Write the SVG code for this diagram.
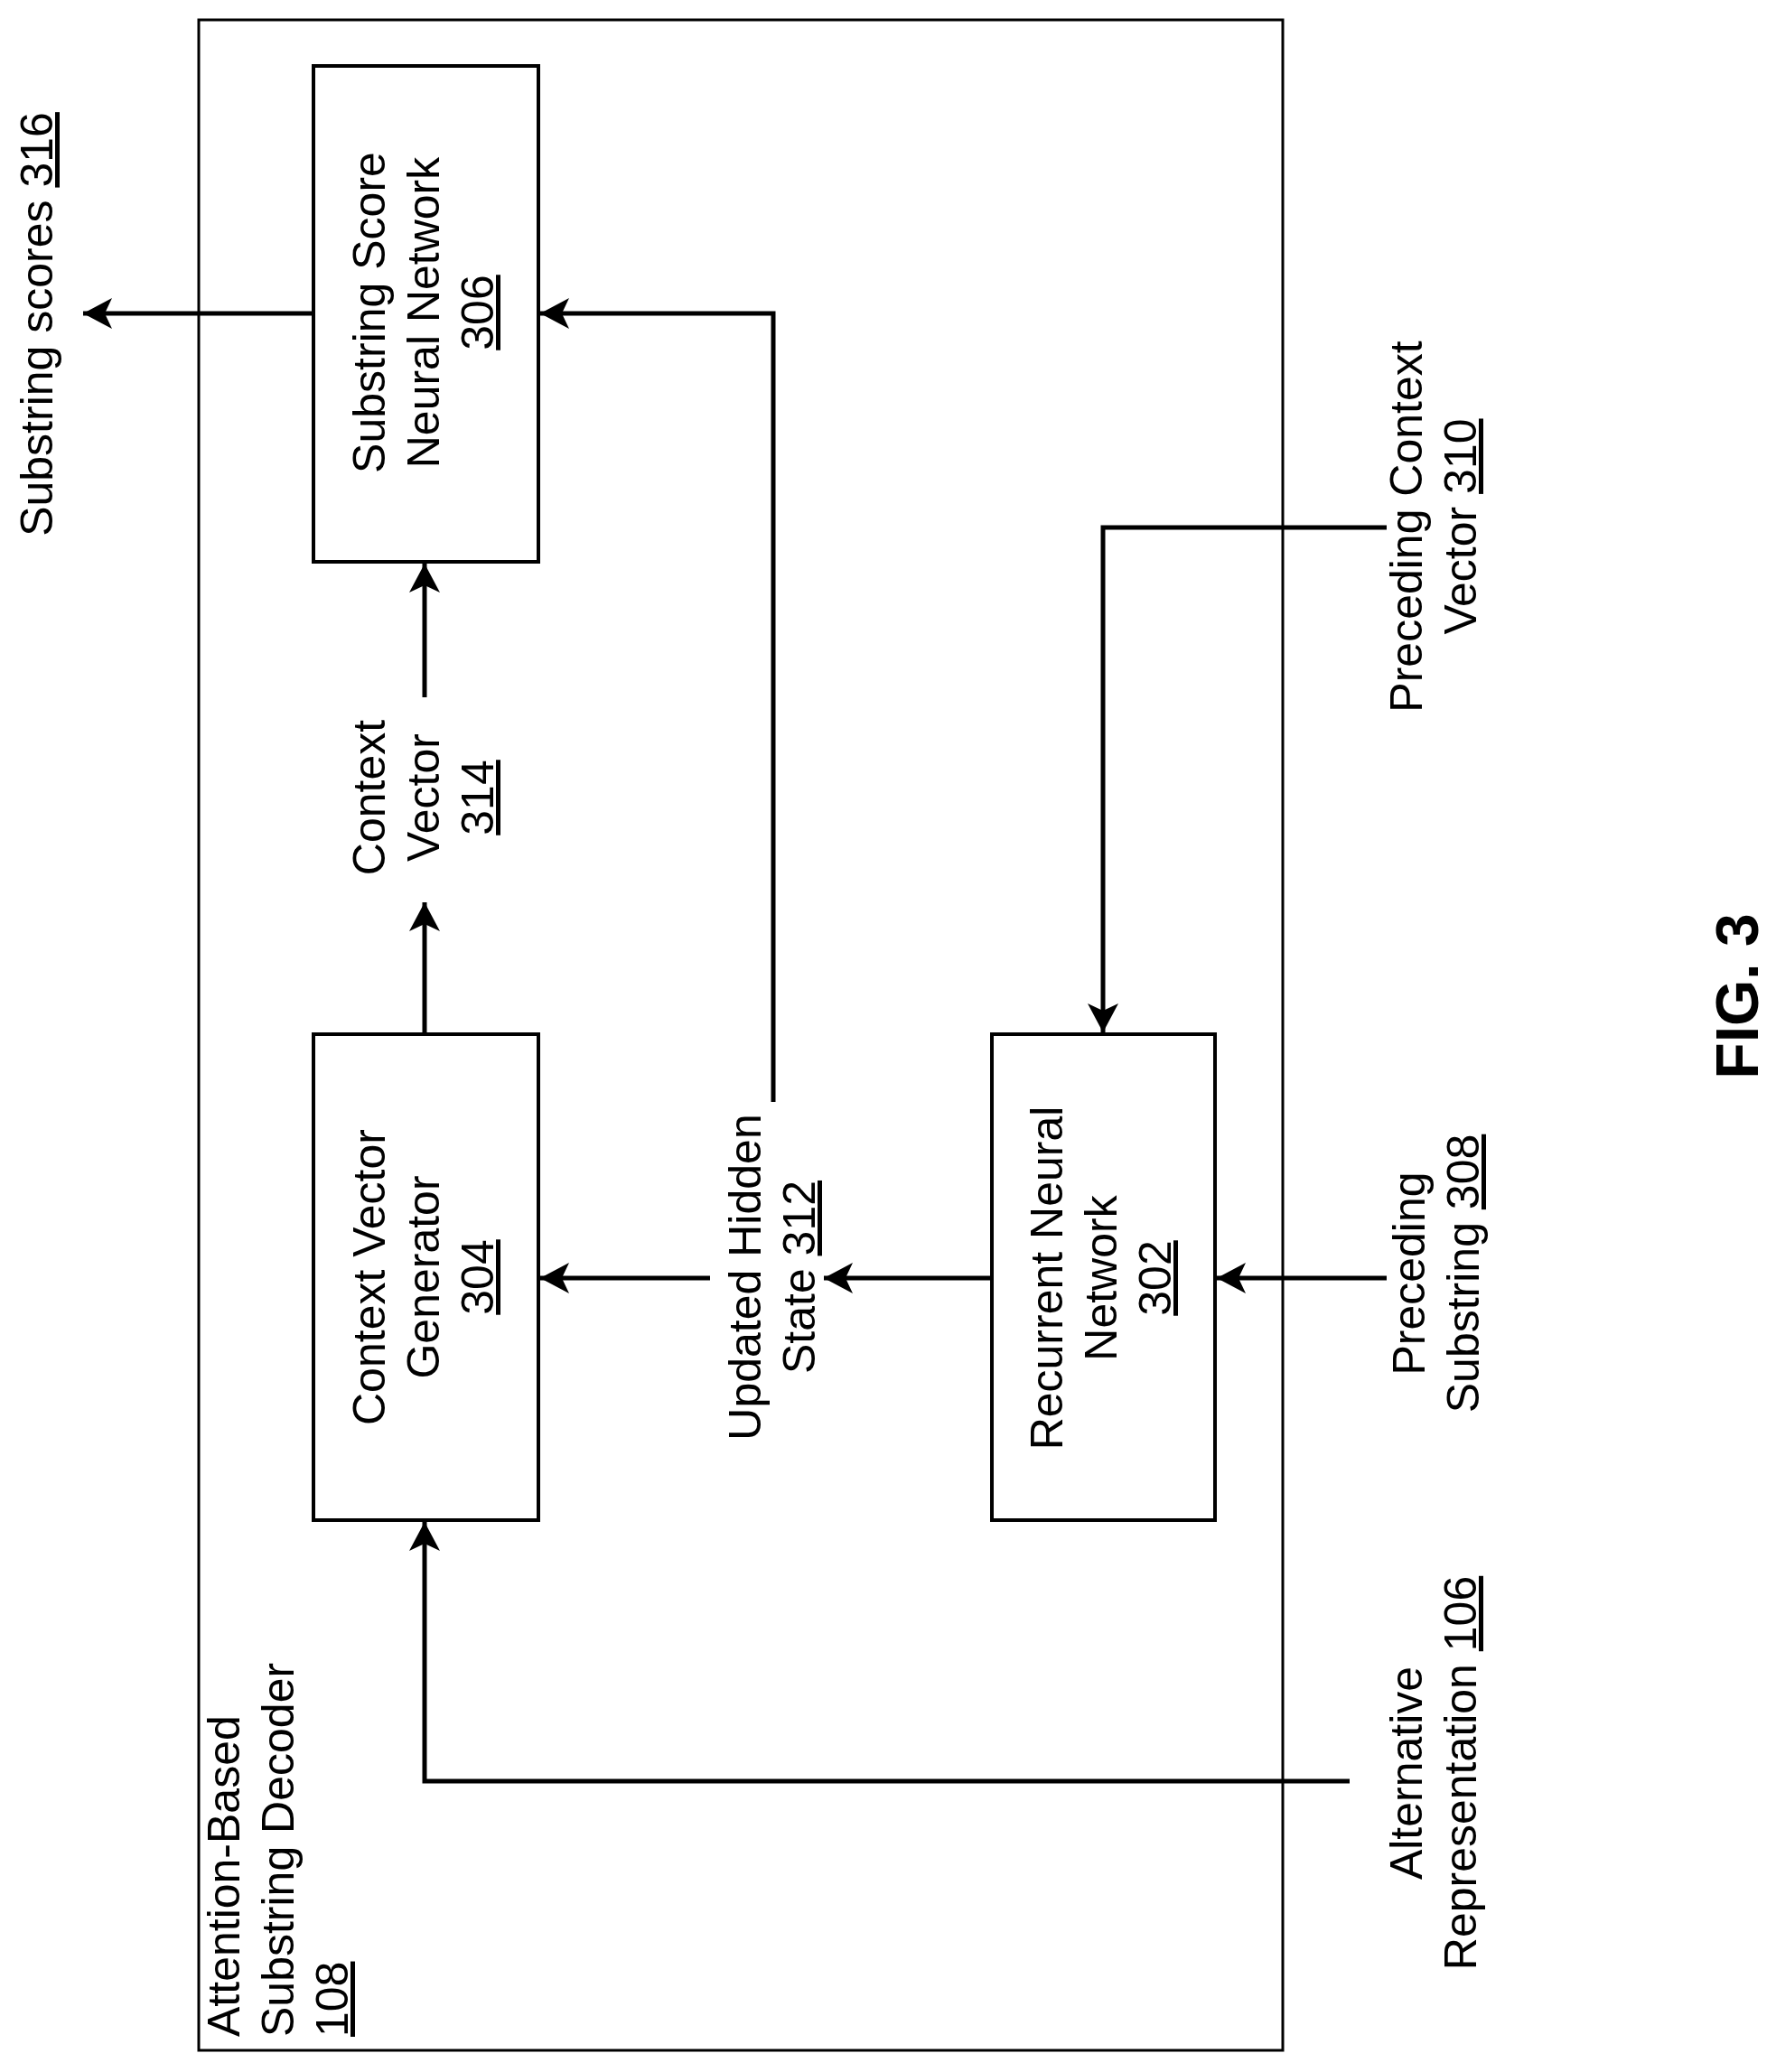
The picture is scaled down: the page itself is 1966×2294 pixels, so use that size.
<svg xmlns="http://www.w3.org/2000/svg" width="1966" height="2294" viewBox="0 0 1966 2294">
<style>
text{font-family:"Liberation Sans",Arial,sans-serif;font-size:50px;fill:#000}
.m{text-anchor:middle}
.u{text-decoration:underline}
.box{fill:#fff;stroke:#000;stroke-width:4}
.c{fill:none;stroke:#000;stroke-width:5}
</style>
<defs>
<marker id="ah" viewBox="0 0 32 34" refX="32" refY="17" markerWidth="32" markerHeight="34" markerUnits="userSpaceOnUse" orient="auto">
<path d="M0,0 L32,17 L0,34 L8,17 Z" fill="#000"/>
</marker>
</defs>
<g id="decoder">
<rect x="220" y="22" width="1200" height="2248" fill="none" stroke="#000" stroke-width="3"/>
<text transform="translate(265,2255) rotate(-90)">Attention-Based</text>
<text transform="translate(325,2255) rotate(-90)">Substring Decoder</text>
<text transform="translate(385,2255) rotate(-90)" class="u">108</text>
</g>
<g id="connectors">
<path class="c" d="M347,347 H92" marker-end="url(#ah)"/>
<path class="c" d="M856,1220 V347 H598" marker-end="url(#ah)"/>
<path class="c" d="M470,772 V624" marker-end="url(#ah)"/>
<path class="c" d="M470,1145 V999" marker-end="url(#ah)"/>
<path class="c" d="M786,1415 H598" marker-end="url(#ah)"/>
<path class="c" d="M1098,1415 H912" marker-end="url(#ah)"/>
<path class="c" d="M1535,1415 H1347" marker-end="url(#ah)"/>
<path class="c" d="M1535,584 H1221 V1143" marker-end="url(#ah)"/>
<path class="c" d="M1494,1972 H470 V1685" marker-end="url(#ah)"/>
</g>
<g id="n306">
<rect class="box" x="347" y="73" width="249" height="549"/>
<text class="m" transform="translate(426,346) rotate(-90)">Substring Score</text>
<text class="m" transform="translate(486,346) rotate(-90)">Neural Network</text>
<text class="m u" transform="translate(546,346) rotate(-90)">306</text>
</g>
<g id="n314">
<text class="m" transform="translate(426,883) rotate(-90)">Context</text>
<text class="m" transform="translate(486,883) rotate(-90)">Vector</text>
<text class="m u" transform="translate(546,883) rotate(-90)">314</text>
</g>
<g id="n304">
<rect class="box" x="347" y="1145" width="249" height="538"/>
<text class="m" transform="translate(426,1414) rotate(-90)">Context Vector</text>
<text class="m" transform="translate(486,1414) rotate(-90)">Generator</text>
<text class="m u" transform="translate(546,1414) rotate(-90)">304</text>
</g>
<g id="n312">
<text class="m" transform="translate(842,1414) rotate(-90)">Updated Hidden</text>
<text class="m" transform="translate(902,1414) rotate(-90)">State <tspan class="u">312</tspan></text>
</g>
<g id="n302">
<rect class="box" x="1098" y="1145" width="247" height="538"/>
<text class="m" transform="translate(1176,1415) rotate(-90)">Recurrent Neural</text>
<text class="m" transform="translate(1236,1415) rotate(-90)">Network</text>
<text class="m u" transform="translate(1296,1415) rotate(-90)">302</text>
</g>
<g id="n308">
<text class="m" transform="translate(1577,1410) rotate(-90)">Preceding</text>
<text class="m" transform="translate(1637,1410) rotate(-90)">Substring <tspan class="u">308</tspan></text>
</g>
<g id="n310">
<text class="m" transform="translate(1574,583) rotate(-90)">Preceding Context</text>
<text class="m" transform="translate(1634,583) rotate(-90)">Vector <tspan class="u">310</tspan></text>
</g>
<g id="n106">
<text class="m" transform="translate(1574,1963) rotate(-90)">Alternative</text>
<text class="m" transform="translate(1634,1963) rotate(-90)">Representation <tspan class="u">106</tspan></text>
</g>
<g id="n316">
<text class="m" transform="translate(58,359) rotate(-90)">Substring scores <tspan class="u">316</tspan></text>
</g>
<g id="fig">
<text class="m" transform="translate(1946,1103) rotate(-90)" style="font-size:66px;font-weight:bold">FIG. 3</text>
</g>
</svg>
